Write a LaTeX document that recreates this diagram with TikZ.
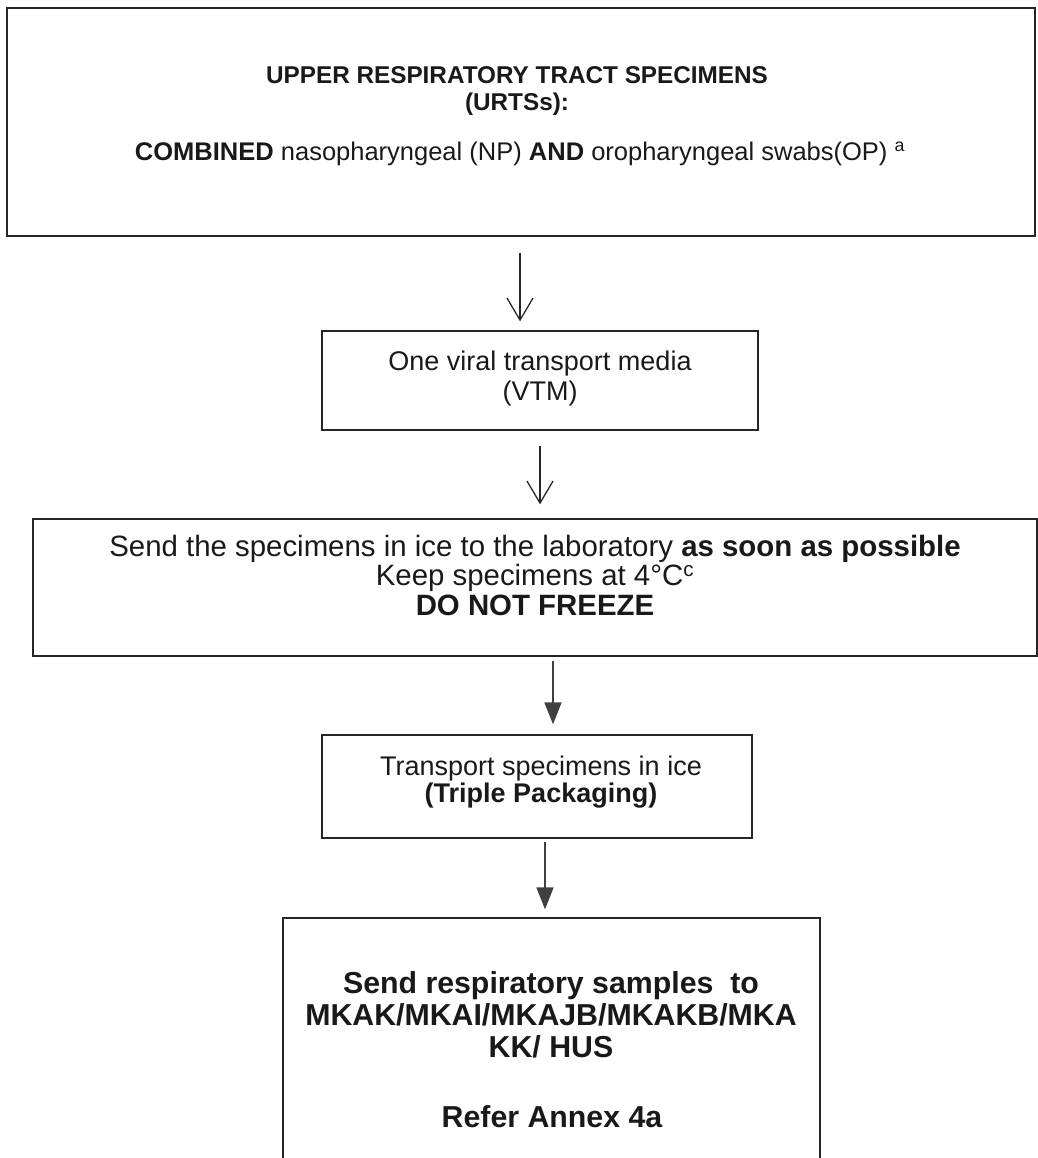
\documentclass[tikz,border=0pt]{standalone}
\usepackage{fontspec}
\setmainfont{Liberation Sans}
\usetikzlibrary{arrows.meta}
\begin{document}
\begin{tikzpicture}[x=1pt,y=-1pt,
  box/.style={draw=black!85, line width=1.3pt, minimum width=#1, inner sep=0pt},
  txt/.style={align=center, inner sep=0pt, text=black!90},
  openarr/.style={draw=black!85, line width=1.3pt, -{Straight Barb[length=22pt,width=26pt,line width=1.3pt]}},
  fillarr/.style={draw=black!75, line width=1.6pt, -{Triangle[length=22pt,width=17pt]}, fill=black!75}]
\useasboundingbox (0,0) rectangle (1037,1158);
% boxes
\node[box=1028pt, minimum height=228pt] (b1) at (521,122) {};
\node[box=436pt, minimum height=99pt] (b2) at (540,380.5) {};
\node[box=1004pt, minimum height=137pt] (b3) at (535,587.5) {};
\node[box=430pt, minimum height=103pt] (b4) at (537,786.5) {};
\node[box=537pt, minimum height=254pt] (b5) at (551.5,1045) {};
% texts
\node[txt, font=\fontsize{24.3}{26.5}\selectfont\bfseries] (t1a) at (517,91)
  {UPPER RESPIRATORY TRACT SPECIMENS\\(URTSs):};
\node[txt, font=\fontsize{25.5}{27}\selectfont, anchor=base] (t1b) at (520,161)
  {\textbf{COMBINED} nasopharyngeal (NP) \textbf{AND} oropharyngeal swabs(OP) \textsuperscript{a}};
\node[txt, font=\fontsize{27}{30}\selectfont] (t2) at (540,379)
  {One viral transport media\\(VTM)};
\node[txt, font=\fontsize{29.4}{29.5}\selectfont] (t3) at (535,575)
  {Send the specimens in ice to the laboratory \textbf{as soon as possible}\\
   Keep specimens at 4°C\textsuperscript{c}\\ \textbf{DO NOT FREEZE}};
\node[txt, font=\fontsize{27}{27}\selectfont] (t4) at (541,782)
  {Transport specimens in ice\\ \textbf{(Triple Packaging)}};
\node[txt, font=\fontsize{30.3}{32}\selectfont\bfseries] (t5) at (551,1015)
  {Send respiratory samples\ \ to\\MKAK/MKAI/MKAJB/MKAKB/MKA\\KK/ HUS};
\node[txt, font=\fontsize{30.3}{32}\selectfont\bfseries] (t6) at (552,1117) {Refer Annex 4a};
% connectors
\draw[openarr, shorten <=16pt, shorten >=9pt] (b1.south -| 520,0) -- (b2.north -| 520,0);
\draw[openarr, shorten <=15pt, shorten >=14pt] (b2.south -| 540,0) -- (b3.north -| 540,0);
\draw[fillarr, shorten <=4pt, shorten >=10pt] (b3.south -| 553,0) -- (b4.north -| 553,0);
\draw[fillarr, shorten <=3pt, shorten >=8pt] (b4.south -| 545,0) -- (b5.north -| 545,0);
\end{tikzpicture}
\end{document}
